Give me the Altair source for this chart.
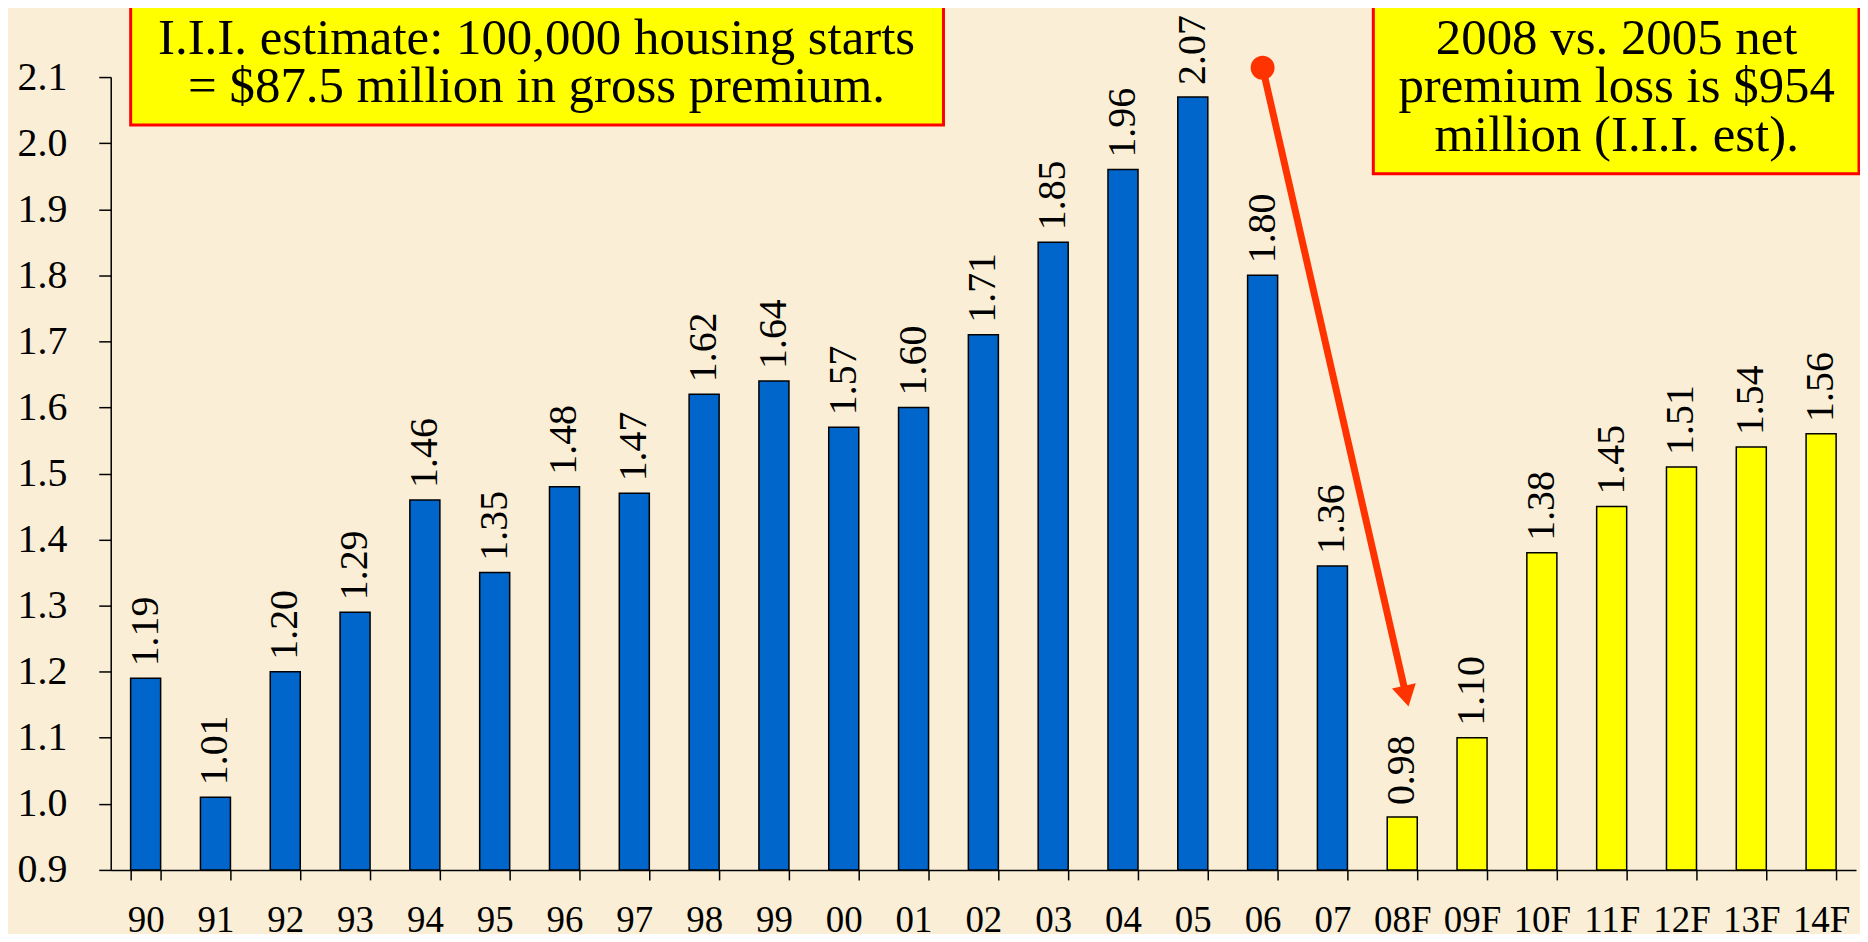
import altair as alt
import pandas as pd

# ---- data ----
years = ["90", "91", "92", "93", "94", "95", "96", "97", "98", "99", "00", "01",
         "02", "03", "04", "05", "06", "07", "08F", "09F", "10F", "11F", "12F", "13F", "14F"]
starts = [1.19, 1.01, 1.20, 1.29, 1.46, 1.35, 1.48, 1.47, 1.62, 1.64, 1.57, 1.60,
          1.71, 1.85, 1.96, 2.07, 1.80, 1.36, 0.98, 1.10, 1.38, 1.45, 1.51, 1.54, 1.56]
kinds = ["Actual"] * 18 + ["Forecast"] * 7
y_ticks = [0.9, 1.0, 1.1, 1.2, 1.3, 1.4, 1.5, 1.6, 1.7, 1.8, 1.9, 2.0, 2.1]

box1_lines = ["I.I.I. estimate: 100,000 housing starts",
              "= $87.5 million in gross premium."]
box2_lines = ["2008 vs. 2005 net",
              "premium loss is $954",
              "million (I.I.I. est)."]

arrow_start = {"x0": "06", "y0": 2.114}
arrow_end = {"x1": "08F", "y1": 1.163}

FONT = "Liberation Serif"
BLUE = "#0066CC"
YELLOW = "#FFFF00"
RED = "#FF3300"
BG = "#FAEFD6"

df = pd.DataFrame({"year": years, "value": starts, "kind": kinds})
arrow_df = pd.DataFrame([{**arrow_start, **arrow_end}])
one = pd.DataFrame({"k": [0]})

xscale = alt.Scale(domain=years, paddingInner=0.57, paddingOuter=0.285)
yscale = alt.Scale(domain=[0.9, 2.1], zero=False, nice=False)

x_axis = alt.Axis(title=None, labelAngle=0, labelFont=FONT, labelFontSize=37,
                  labelColor="black", tickColor="black", domainColor="black",
                  tickSize=10, tickWidth=1.5, domainWidth=1.5, labelPadding=23,
                  tickBand="extent", grid=False)
y_axis = alt.Axis(title=None, values=y_ticks, format=".1f", labelFont=FONT,
                  labelFontSize=40, labelColor="black", tickColor="black",
                  domainColor="black", tickSize=12, tickWidth=1.5, domainWidth=1.5,
                  labelPadding=32, grid=False)

bars = alt.Chart(df).mark_bar(stroke="black", strokeWidth=1.5).encode(
    x=alt.X("year:N", sort=years, scale=xscale, axis=x_axis, title=None),
    y=alt.Y("value:Q", scale=yscale, axis=y_axis, title=None),
    y2=alt.datum(0.9),
    color=alt.Color("kind:N", scale=alt.Scale(domain=["Actual", "Forecast"],
                                              range=[BLUE, YELLOW]), legend=None),
)

labels = alt.Chart(df).mark_text(angle=270, align="left", baseline="middle", dx=12,
                                 font=FONT, fontSize=40, color="black").encode(
    x=alt.X("year:N", sort=years, scale=xscale, title=None),
    y=alt.Y("value:Q", scale=yscale, title=None),
    text=alt.Text("value:Q", format=".2f"),
)

arrow_line = alt.Chart(arrow_df).mark_rule(color=RED, strokeWidth=7, x2Offset=4).encode(
    x=alt.X("x0:N", scale=xscale, title=None),
    y=alt.Y("y0:Q", scale=yscale, title=None),
    x2="x1:N",
    y2="y1:Q",
)
arrow_dot = alt.Chart(arrow_df).mark_point(shape="circle", filled=True, opacity=1,
                                           color=RED, size=576).encode(
    x=alt.X("x0:N", scale=xscale, title=None),
    y=alt.Y("y0:Q", scale=yscale, title=None),
)
arrow_head = alt.Chart(arrow_df).mark_point(shape="triangle-down", filled=True, opacity=1,
                                            color=RED, size=600, angle=347.3,
                                            xOffset=4).encode(
    x=alt.X("x1:N", scale=xscale, title=None),
    y=alt.Y("y1:Q", scale=yscale, title=None),
)

box1 = alt.Chart(one).mark_rect(fill=YELLOW, stroke="#FF0000", strokeWidth=3).encode(
    x=alt.value(20), x2=alt.value(835), y=alt.value(-71), y2=alt.value(48))
text1 = alt.Chart(one).mark_text(text=box1_lines, font=FONT, fontSize=51, align="center",
                                 baseline="alphabetic", lineHeight=48.5,
                                 color="black").encode(
    x=alt.value(427), y=alt.value(-23))

box2 = alt.Chart(one).mark_rect(fill=YELLOW, stroke="#FF0000", strokeWidth=3).encode(
    x=alt.value(1266), x2=alt.value(1753), y=alt.value(-71), y2=alt.value(97))
text2 = alt.Chart(one).mark_text(text=box2_lines, font=FONT, fontSize=51, align="center",
                                 baseline="alphabetic", lineHeight=48.5,
                                 color="black").encode(
    x=alt.value(1510), y=alt.value(-23))

chart = alt.layer(bars, labels, arrow_line, arrow_dot, arrow_head,
                  box1, text1, box2, text2).properties(
    width=1750, height=795,
    padding={"left": 103, "top": 68, "right": 4, "bottom": 63},
    autosize=alt.AutoSizeParams(type="none"),
    background=BG,
).configure_view(stroke=None)

chart.save("out.html", embed_options={"renderer": "svg", "actions": False})
